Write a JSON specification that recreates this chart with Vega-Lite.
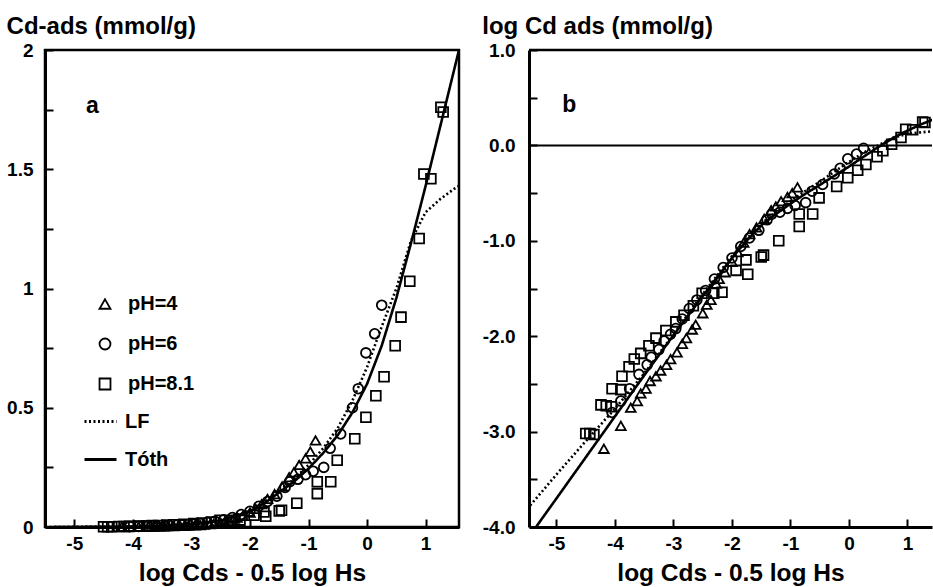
{
  "$schema": "https://vega.github.io/schema/vega-lite/v6.json",
  "padding": {"left": 5, "top": 13, "right": 0, "bottom": 0},
  "background": "white",
  "spacing": 21,
  "datasets": {
    "pts": [
      {"ph": "pH=4", "x": -4.19, "lads": -3.18, "ads": 0.00066},
      {"ph": "pH=4", "x": -3.90, "lads": -2.94, "ads": 0.00115},
      {"ph": "pH=4", "x": -3.73, "lads": -2.75, "ads": 0.00178},
      {"ph": "pH=4", "x": -3.62, "lads": -2.68, "ads": 0.00209},
      {"ph": "pH=4", "x": -3.56, "lads": -2.60, "ads": 0.00251},
      {"ph": "pH=4", "x": -3.47, "lads": -2.55, "ads": 0.00282},
      {"ph": "pH=4", "x": -3.40, "lads": -2.47, "ads": 0.00339},
      {"ph": "pH=4", "x": -3.30, "lads": -2.42, "ads": 0.0038},
      {"ph": "pH=4", "x": -3.22, "lads": -2.36, "ads": 0.00437},
      {"ph": "pH=4", "x": -3.12, "lads": -2.30, "ads": 0.00501},
      {"ph": "pH=4", "x": -3.05, "lads": -2.24, "ads": 0.00575},
      {"ph": "pH=4", "x": -2.94, "lads": -2.17, "ads": 0.00676},
      {"ph": "pH=4", "x": -2.85, "lads": -2.08, "ads": 0.00832},
      {"ph": "pH=4", "x": -2.78, "lads": -2.02, "ads": 0.00955},
      {"ph": "pH=4", "x": -2.68, "lads": -1.93, "ads": 0.01175},
      {"ph": "pH=4", "x": -2.62, "lads": -1.88, "ads": 0.01318},
      {"ph": "pH=4", "x": -2.50, "lads": -1.76, "ads": 0.01738},
      {"ph": "pH=4", "x": -2.43, "lads": -1.67, "ads": 0.0214},
      {"ph": "pH=4", "x": -2.36, "lads": -1.62, "ads": 0.024},
      {"ph": "pH=4", "x": -2.27, "lads": -1.45, "ads": 0.0355},
      {"ph": "pH=4", "x": -2.22, "lads": -1.40, "ads": 0.0398},
      {"ph": "pH=4", "x": -2.12, "lads": -1.33, "ads": 0.0468},
      {"ph": "pH=4", "x": -2.00, "lads": -1.22, "ads": 0.0603},
      {"ph": "pH=4", "x": -1.90, "lads": -1.12, "ads": 0.0759},
      {"ph": "pH=4", "x": -1.80, "lads": -1.02, "ads": 0.0955},
      {"ph": "pH=4", "x": -1.70, "lads": -0.93, "ads": 0.1175},
      {"ph": "pH=4", "x": -1.58, "lads": -0.86, "ads": 0.138},
      {"ph": "pH=4", "x": -1.45, "lads": -0.77, "ads": 0.17},
      {"ph": "pH=4", "x": -1.33, "lads": -0.68, "ads": 0.209},
      {"ph": "pH=4", "x": -1.25, "lads": -0.64, "ads": 0.229},
      {"ph": "pH=4", "x": -1.16, "lads": -0.585, "ads": 0.26},
      {"ph": "pH=4", "x": -1.05, "lads": -0.54, "ads": 0.288},
      {"ph": "pH=4", "x": -0.97, "lads": -0.50, "ads": 0.316},
      {"ph": "pH=4", "x": -0.88, "lads": -0.44, "ads": 0.363},
      {"ph": "pH=6", "x": -4.05, "lads": -2.80, "ads": 0.00158},
      {"ph": "pH=6", "x": -3.90, "lads": -2.68, "ads": 0.00209},
      {"ph": "pH=6", "x": -3.75, "lads": -2.55, "ads": 0.00282},
      {"ph": "pH=6", "x": -3.59, "lads": -2.40, "ads": 0.00398},
      {"ph": "pH=6", "x": -3.45, "lads": -2.30, "ads": 0.00501},
      {"ph": "pH=6", "x": -3.38, "lads": -2.22, "ads": 0.00603},
      {"ph": "pH=6", "x": -3.25, "lads": -2.14, "ads": 0.00724},
      {"ph": "pH=6", "x": -3.16, "lads": -2.05, "ads": 0.00891},
      {"ph": "pH=6", "x": -3.05, "lads": -1.98, "ads": 0.01047},
      {"ph": "pH=6", "x": -2.96, "lads": -1.92, "ads": 0.0120},
      {"ph": "pH=6", "x": -2.85, "lads": -1.82, "ads": 0.0151},
      {"ph": "pH=6", "x": -2.73, "lads": -1.71, "ads": 0.0195},
      {"ph": "pH=6", "x": -2.60, "lads": -1.62, "ads": 0.024},
      {"ph": "pH=6", "x": -2.45, "lads": -1.52, "ads": 0.0302},
      {"ph": "pH=6", "x": -2.30, "lads": -1.40, "ads": 0.0398},
      {"ph": "pH=6", "x": -2.15, "lads": -1.28, "ads": 0.0525},
      {"ph": "pH=6", "x": -2.00, "lads": -1.18, "ads": 0.0661},
      {"ph": "pH=6", "x": -1.85, "lads": -1.06, "ads": 0.0871},
      {"ph": "pH=6", "x": -1.70, "lads": -0.97, "ads": 0.107},
      {"ph": "pH=6", "x": -1.54, "lads": -0.89, "ads": 0.129},
      {"ph": "pH=6", "x": -1.40, "lads": -0.78, "ads": 0.166},
      {"ph": "pH=6", "x": -1.32, "lads": -0.72, "ads": 0.19},
      {"ph": "pH=6", "x": -1.18, "lads": -0.70, "ads": 0.20},
      {"ph": "pH=6", "x": -1.05, "lads": -0.66, "ads": 0.219},
      {"ph": "pH=6", "x": -0.92, "lads": -0.63, "ads": 0.234},
      {"ph": "pH=6", "x": -0.74, "lads": -0.60, "ads": 0.25},
      {"ph": "pH=6", "x": -0.63, "lads": -0.48, "ads": 0.33},
      {"ph": "pH=6", "x": -0.45, "lads": -0.41, "ads": 0.39},
      {"ph": "pH=6", "x": -0.25, "lads": -0.30, "ads": 0.50},
      {"ph": "pH=6", "x": -0.15, "lads": -0.24, "ads": 0.58},
      {"ph": "pH=6", "x": -0.02, "lads": -0.14, "ads": 0.73},
      {"ph": "pH=6", "x": 0.13, "lads": -0.09, "ads": 0.81},
      {"ph": "pH=6", "x": 0.25, "lads": -0.03, "ads": 0.93},
      {"ph": "pH=8.1", "x": -4.50, "lads": -3.02, "ads": 0.00095},
      {"ph": "pH=8.1", "x": -4.43, "lads": -3.02, "ads": 0.00095},
      {"ph": "pH=8.1", "x": -4.36, "lads": -3.03, "ads": 0.00093},
      {"ph": "pH=8.1", "x": -4.24, "lads": -2.72, "ads": 0.00191},
      {"ph": "pH=8.1", "x": -4.15, "lads": -2.73, "ads": 0.00186},
      {"ph": "pH=8.1", "x": -4.06, "lads": -2.74, "ads": 0.00182},
      {"ph": "pH=8.1", "x": -4.05, "lads": -2.55, "ads": 0.00282},
      {"ph": "pH=8.1", "x": -3.90, "lads": -2.56, "ads": 0.00275},
      {"ph": "pH=8.1", "x": -3.88, "lads": -2.42, "ads": 0.0038},
      {"ph": "pH=8.1", "x": -3.76, "lads": -2.32, "ads": 0.00479},
      {"ph": "pH=8.1", "x": -3.67, "lads": -2.24, "ads": 0.00575},
      {"ph": "pH=8.1", "x": -3.56, "lads": -2.18, "ads": 0.00661},
      {"ph": "pH=8.1", "x": -3.42, "lads": -2.10, "ads": 0.00794},
      {"ph": "pH=8.1", "x": -3.30, "lads": -2.02, "ads": 0.00955},
      {"ph": "pH=8.1", "x": -3.13, "lads": -1.94, "ads": 0.01148},
      {"ph": "pH=8.1", "x": -2.96, "lads": -1.85, "ads": 0.0141},
      {"ph": "pH=8.1", "x": -2.82, "lads": -1.78, "ads": 0.0166},
      {"ph": "pH=8.1", "x": -2.66, "lads": -1.68, "ads": 0.0209},
      {"ph": "pH=8.1", "x": -2.51, "lads": -1.55, "ads": 0.0282},
      {"ph": "pH=8.1", "x": -2.31, "lads": -1.55, "ads": 0.0282},
      {"ph": "pH=8.1", "x": -2.17, "lads": -1.54, "ads": 0.0288},
      {"ph": "pH=8.1", "x": -1.93, "lads": -1.31, "ads": 0.049},
      {"ph": "pH=8.1", "x": -1.73, "lads": -1.35, "ads": 0.045},
      {"ph": "pH=8.1", "x": -1.76, "lads": -1.20, "ads": 0.063},
      {"ph": "pH=8.1", "x": -1.50, "lads": -1.17, "ads": 0.0676},
      {"ph": "pH=8.1", "x": -1.46, "lads": -1.15, "ads": 0.07},
      {"ph": "pH=8.1", "x": -1.20, "lads": -1.00, "ads": 0.10},
      {"ph": "pH=8.1", "x": -0.85, "lads": -0.85, "ads": 0.14},
      {"ph": "pH=8.1", "x": -0.85, "lads": -0.72, "ads": 0.19},
      {"ph": "pH=8.1", "x": -0.62, "lads": -0.72, "ads": 0.19},
      {"ph": "pH=8.1", "x": -0.51, "lads": -0.55, "ads": 0.28},
      {"ph": "pH=8.1", "x": -0.21, "lads": -0.43, "ads": 0.37},
      {"ph": "pH=8.1", "x": -0.02, "lads": -0.34, "ads": 0.46},
      {"ph": "pH=8.1", "x": 0.15, "lads": -0.26, "ads": 0.55},
      {"ph": "pH=8.1", "x": 0.29, "lads": -0.20, "ads": 0.63},
      {"ph": "pH=8.1", "x": 0.48, "lads": -0.12, "ads": 0.76},
      {"ph": "pH=8.1", "x": 0.58, "lads": -0.056, "ads": 0.88},
      {"ph": "pH=8.1", "x": 0.73, "lads": 0.013, "ads": 1.03},
      {"ph": "pH=8.1", "x": 0.89, "lads": 0.083, "ads": 1.21},
      {"ph": "pH=8.1", "x": 0.97, "lads": 0.170, "ads": 1.48},
      {"ph": "pH=8.1", "x": 1.09, "lads": 0.164, "ads": 1.46},
      {"ph": "pH=8.1", "x": 1.26, "lads": 0.246, "ads": 1.76},
      {"ph": "pH=8.1", "x": 1.30, "lads": 0.241, "ads": 1.74}
    ],
    "curves": [
      {"model": "Tóth", "x": -5.35, "ads": 0.0001, "lads": -4.0},
      {"model": "Tóth", "x": -5.0, "ads": 0.0002, "lads": -3.70},
      {"model": "Tóth", "x": -4.5, "ads": 0.00054, "lads": -3.27},
      {"model": "Tóth", "x": -4.0, "ads": 0.00145, "lads": -2.84},
      {"model": "Tóth", "x": -3.5, "ads": 0.0039, "lads": -2.41},
      {"model": "Tóth", "x": -3.0, "ads": 0.0102, "lads": -1.99},
      {"model": "Tóth", "x": -2.5, "ads": 0.0263, "lads": -1.58},
      {"model": "Tóth", "x": -2.0, "ads": 0.066, "lads": -1.18},
      {"model": "Tóth", "x": -1.75, "ads": 0.10, "lads": -1.0},
      {"model": "Tóth", "x": -1.5, "ads": 0.145, "lads": -0.839},
      {"model": "Tóth", "x": -1.25, "ads": 0.19, "lads": -0.721},
      {"model": "Tóth", "x": -1.0, "ads": 0.245, "lads": -0.611},
      {"model": "Tóth", "x": -0.75, "ads": 0.31, "lads": -0.509},
      {"model": "Tóth", "x": -0.5, "ads": 0.385, "lads": -0.415},
      {"model": "Tóth", "x": -0.25, "ads": 0.48, "lads": -0.319},
      {"model": "Tóth", "x": 0.0, "ads": 0.60, "lads": -0.222},
      {"model": "Tóth", "x": 0.25, "ads": 0.76, "lads": -0.119},
      {"model": "Tóth", "x": 0.5, "ads": 0.96, "lads": -0.018},
      {"model": "Tóth", "x": 0.75, "ads": 1.19, "lads": 0.076},
      {"model": "Tóth", "x": 1.0, "ads": 1.43, "lads": 0.155},
      {"model": "Tóth", "x": 1.25, "ads": 1.68, "lads": 0.225},
      {"model": "Tóth", "x": 1.5, "ads": 1.93, "lads": 0.286},
      {"model": "Tóth", "x": 1.57, "ads": 2.0, "lads": 0.301},
      {"model": "LF", "x": -5.5, "ads": 0.000155, "lads": -3.81},
      {"model": "LF", "x": -5.0, "ads": 0.000355, "lads": -3.45},
      {"model": "LF", "x": -4.5, "ads": 0.00079, "lads": -3.10},
      {"model": "LF", "x": -4.0, "ads": 0.00174, "lads": -2.76},
      {"model": "LF", "x": -3.5, "ads": 0.00407, "lads": -2.39},
      {"model": "LF", "x": -3.0, "ads": 0.0105, "lads": -1.98},
      {"model": "LF", "x": -2.5, "ads": 0.0275, "lads": -1.56},
      {"model": "LF", "x": -2.0, "ads": 0.069, "lads": -1.16},
      {"model": "LF", "x": -1.75, "ads": 0.105, "lads": -0.98},
      {"model": "LF", "x": -1.5, "ads": 0.151, "lads": -0.82},
      {"model": "LF", "x": -1.25, "ads": 0.20, "lads": -0.70},
      {"model": "LF", "x": -1.0, "ads": 0.26, "lads": -0.585},
      {"model": "LF", "x": -0.75, "ads": 0.33, "lads": -0.48},
      {"model": "LF", "x": -0.5, "ads": 0.415, "lads": -0.382},
      {"model": "LF", "x": -0.25, "ads": 0.53, "lads": -0.276},
      {"model": "LF", "x": 0.0, "ads": 0.67, "lads": -0.174},
      {"model": "LF", "x": 0.25, "ads": 0.84, "lads": -0.076},
      {"model": "LF", "x": 0.5, "ads": 1.0, "lads": 0.0},
      {"model": "LF", "x": 0.75, "ads": 1.2, "lads": 0.079},
      {"model": "LF", "x": 1.0, "ads": 1.32, "lads": 0.121},
      {"model": "LF", "x": 1.25, "ads": 1.375, "lads": 0.138},
      {"model": "LF", "x": 1.5, "ads": 1.42, "lads": 0.152},
      {"model": "LF", "x": 1.57, "ads": 1.43, "lads": 0.155}
    ],
    "panel": [{"letter": "panel"}]
  },
  "resolve": {
    "scale": {"x": "independent", "y": "independent", "shape": "independent", "strokeDash": "independent"},
    "legend": {"shape": "independent", "strokeDash": "independent"}
  },
  "hconcat": [
    {
      "width": 414,
      "height": 477,
      "title": {"text": "Cd-ads (mmol/g)", "anchor": "start", "frame": "bounds", "offset": 2},
      "view": {"stroke": "black", "strokeWidth": 2.5},
      "layer": [
        {
          "data": {"name": "pts"},
          "mark": {"type": "point", "filled": false, "size": 95, "strokeWidth": 1.8, "color": "black", "opacity": 1},
          "encoding": {
            "x": {
              "field": "x", "type": "quantitative",
              "scale": {"domain": [-5.5, 1.57], "nice": false, "zero": false},
              "axis": {
                "title": "log Cds - 0.5 log Hs",
                "values": [-5, -4.5, -4, -3.5, -3, -2.5, -2, -1.5, -1, -0.5, 0, 0.5, 1, 1.5],
                "labelExpr": "datum.value % 1 === 0 ? toString(datum.value) : ''",
                "tickSize": -8,
                "labelPadding": 15,
                "titlePadding": 8
              }
            },
            "y": {
              "field": "ads", "type": "quantitative",
              "scale": {"domain": [0, 2], "nice": false},
              "axis": {
                "title": null,
                "values": [0, 0.25, 0.5, 0.75, 1, 1.25, 1.5, 1.75, 2],
                "labelExpr": "datum.value % 0.5 === 0 ? toString(datum.value) : ''",
                "tickSize": -8,
                "labelPadding": 20
              }
            },
            "shape": {
              "field": "ph", "type": "nominal",
              "scale": {"domain": ["pH=4", "pH=6", "pH=8.1"], "range": ["triangle-up", "circle", "square"]},
              "legend": {
                "orient": "none", "legendX": 50, "legendY": 244, "title": null,
                "rowPadding": 20, "labelOffset": 13, "symbolStrokeColor": "black",
                "symbolStrokeWidth": 1.8, "symbolSize": 120
              }
            }
          }
        },
        {
          "data": {"name": "curves"},
          "mark": {"type": "line", "color": "black", "strokeWidth": 2.6, "clip": true},
          "encoding": {
            "x": {"field": "x", "type": "quantitative"},
            "y": {"field": "ads", "type": "quantitative"},
            "strokeDash": {
              "field": "model", "type": "nominal",
              "scale": {"domain": ["LF", "Tóth"], "range": [[2, 2.5], [1, 0]]},
              "legend": {
                "orient": "none", "legendX": 38, "legendY": 354, "title": null,
                "symbolType": "stroke", "symbolSize": 1024, "symbolStrokeWidth": 3,
                "symbolStrokeColor": "black", "labelOffset": 7, "rowPadding": 10
              }
            }
          }
        },
        {
          "data": {"name": "panel"},
          "mark": {"type": "text", "text": "a", "fontSize": 23, "fontWeight": "bold", "font": "Liberation Sans", "align": "left", "baseline": "middle", "color": "black", "opacity": 1},
          "encoding": {
            "x": {"datum": -4.8},
            "y": {"datum": 1.765}
          }
        }
      ]
    },
    {
      "width": 403,
      "height": 477,
      "title": {"text": "log Cd ads (mmol/g)", "anchor": "start", "frame": "bounds", "offset": 2},
      "view": {"stroke": null},
      "layer": [
        {
          "data": {"name": "pts"},
          "mark": {"type": "point", "filled": false, "size": 95, "strokeWidth": 1.8, "color": "black", "opacity": 1, "clip": true},
          "encoding": {
            "x": {
              "field": "x", "type": "quantitative",
              "scale": {"domain": [-5.47, 1.42], "nice": false, "zero": false},
              "axis": {
                "title": "log Cds - 0.5 log Hs",
                "values": [-5, -4.5, -4, -3.5, -3, -2.5, -2, -1.5, -1, -0.5, 0, 0.5, 1],
                "labelExpr": "datum.value % 1 === 0 ? toString(datum.value) : ''",
                "tickSize": -8,
                "labelPadding": 15,
                "titlePadding": 8
              }
            },
            "y": {
              "field": "lads", "type": "quantitative",
              "scale": {"domain": [-4, 1], "nice": false, "zero": false},
              "axis": {
                "title": null,
                "values": [-4, -3.5, -3, -2.5, -2, -1.5, -1, -0.5, 0, 0.5, 1],
                "labelExpr": "datum.value % 1 === 0 ? (datum.value < 0 ? '-' + format(-datum.value, '.1f') : format(datum.value, '.1f')) : ''",
                "tickSize": -8,
                "labelPadding": 22
              }
            },
            "shape": {
              "field": "ph", "type": "nominal",
              "scale": {"domain": ["pH=4", "pH=6", "pH=8.1"], "range": ["triangle-up", "circle", "square"]},
              "legend": null
            }
          }
        },
        {
          "data": {"name": "curves"},
          "mark": {"type": "line", "color": "black", "strokeWidth": 2.6, "clip": true},
          "encoding": {
            "x": {"field": "x", "type": "quantitative"},
            "y": {"field": "lads", "type": "quantitative"},
            "strokeDash": {
              "field": "model", "type": "nominal",
              "scale": {"domain": ["LF", "Tóth"], "range": [[2, 2.5], [1, 0]]},
              "legend": null
            }
          }
        },
        {
          "data": {"name": "panel"},
          "mark": {"type": "rule", "color": "black", "strokeWidth": 2},
          "encoding": {"y": {"datum": 0}}
        },
        {
          "data": {"name": "panel"},
          "mark": {"type": "rule", "color": "black", "strokeWidth": 2.5},
          "encoding": {"y": {"datum": 1}}
        },
        {
          "data": {"name": "panel"},
          "mark": {"type": "text", "text": "b", "fontSize": 23, "fontWeight": "bold", "font": "Liberation Sans", "align": "left", "baseline": "middle", "color": "black", "opacity": 1},
          "encoding": {
            "x": {"datum": -4.9},
            "y": {"datum": 0.42}
          }
        }
      ]
    }
  ],
  "config": {
    "font": "Liberation Sans",
    "title": {"font": "Liberation Sans", "fontSize": 24, "fontWeight": "bold", "color": "black"},
    "axis": {
      "labelFont": "Liberation Sans", "labelFontSize": 19, "labelFontWeight": "bold", "labelColor": "black",
      "titleFont": "Liberation Sans", "titleFontSize": 24.5, "titleFontWeight": "bold", "titleColor": "black",
      "domainColor": "black", "domainWidth": 3, "tickColor": "black", "tickWidth": 2,
      "grid": false, "labelFlush": false, "labelOverlap": false, "labelBound": false
    },
    "legend": {
      "labelFont": "Liberation Sans", "labelFontSize": 20, "labelFontWeight": "bold", "labelColor": "black"
    }
  }
}
